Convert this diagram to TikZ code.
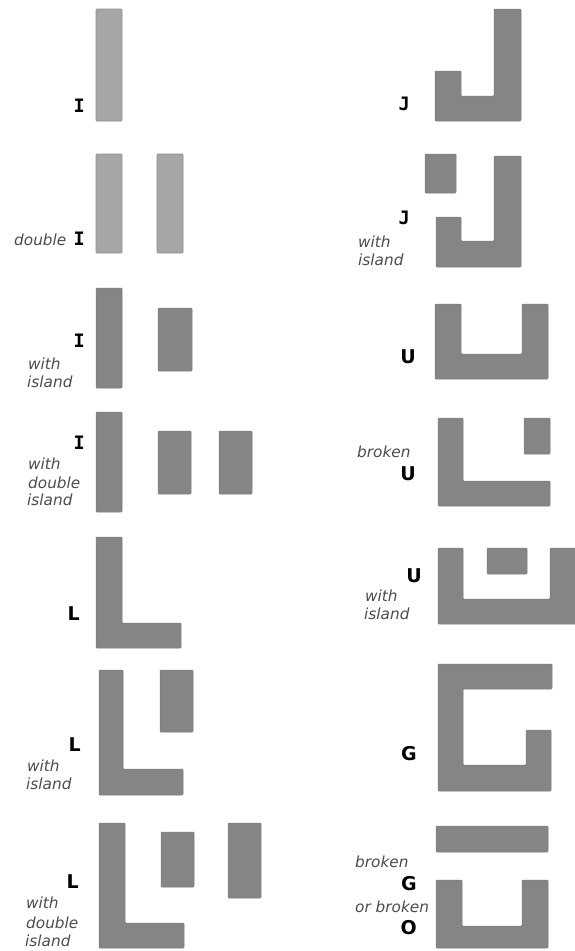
\documentclass[tikz,border=0pt]{standalone}
\usepackage{fontspec}
\setmainfont{DejaVu Sans}
\newfontfamily\monof{DejaVu Sans Mono}
\definecolor{lightg}{HTML}{A6A6A8}
\definecolor{lightb}{HTML}{8E8E90}
\definecolor{darkg}{HTML}{858587}
\definecolor{darkb}{HTML}{7A7A7C}
\definecolor{notec}{HTML}{4C4C4C}
\tikzset{
  lightbar/.style={fill=lightg, draw=lightb, line width=0.6pt, line join=round, rounded corners=0.8pt},
  darkbar/.style={fill=darkg, draw=darkb, line width=0.5pt, line join=round, rounded corners=0.8pt},
  bigletter/.style={font=\fontsize{19}{19}\selectfont\bfseries, anchor=base east, inner sep=0pt},
  monoletter/.style={font=\monof\fontsize{18.5}{18.5}\selectfont\bfseries, anchor=base east, inner sep=0pt},
  note/.style={font=\fontsize{15.3}{15.3}\selectfont\itshape, text=notec, anchor=base west, inner sep=0pt},
}
\begin{document}
\begin{tikzpicture}[x=1pt,y=-1pt]
\useasboundingbox[fill=white] (0,0) rectangle (574,951);
% ---------------- left column ----------------
% I
\draw[lightbar] (96,9) rectangle (122,121);
\node[monoletter] (tI) at (85,112) {I};
% double I
\draw[lightbar] (96,154) rectangle (122,253);
\draw[lightbar] (157,154) rectangle (183,253);
\node[note] (tdouble) at (14,245) {double};
\node[monoletter] (tdI) at (85,245) {I};
% I with island
\draw[darkbar] (96,288) rectangle (122,388);
\draw[darkbar] (158,308) rectangle (192,371);
\node[monoletter] (tIw) at (85,347) {I};
\node[note] (tIw1) at (28,369) {with};
\node[note] (tIw2) at (27,387) {island};
% I with double island
\draw[darkbar] (96,412) rectangle (122,512);
\draw[darkbar] (158,431) rectangle (191,494);
\draw[darkbar] (219,431) rectangle (252,494);
\node[monoletter] (tIdd) at (85,449) {I};
\node[note] (tIdd1) at (28,469) {with};
\node[note] (tIdd2) at (28,488) {double};
\node[note] (tIdd3) at (27,505) {island};
% L
\draw[darkbar] (96,537) -- (122,537) -- (122,623) -- (181,623) -- (181,648) -- (96,648) -- cycle;
\node[bigletter] (tL) at (80,620) {L};
% L with island
\draw[darkbar] (99,670) -- (123,670) -- (123,769) -- (183,769) -- (183,795) -- (99,795) -- cycle;
\draw[darkbar] (160,670) rectangle (193,732);
\node[bigletter] (tLw) at (81,751) {L};
\node[note] (tLw1) at (27,771) {with};
\node[note] (tLw2) at (26,789) {island};
% L with double island
\draw[darkbar] (99,823) -- (125,823) -- (125,923) -- (184,923) -- (184,948) -- (99,948) -- cycle;
\draw[darkbar] (161,832) rectangle (194,887);
\draw[darkbar] (228,823) rectangle (261,898);
\node[bigletter] (tLdd) at (79,888) {L};
\node[note] (tLdd1) at (26,908) {with};
\node[note] (tLdd2) at (26,928) {double};
\node[note] (tLdd3) at (25,946) {island};
% ---------------- right column ----------------
% J
\draw[darkbar] (494,9) -- (521,9) -- (521,121) -- (435,121) -- (435,71) -- (461,71) -- (461,96) -- (494,96) -- cycle;
\node[monoletter] (tJ) at (410,110) {J};
% J with island
\draw[darkbar] (494,156) -- (521,156) -- (521,267) -- (436,267) -- (436,217) -- (461,217) -- (461,241) -- (494,241) -- cycle;
\draw[darkbar] (425,154) rectangle (456,193);
\node[monoletter] (tJw) at (410,224) {J};
\node[note] (tJw1) at (358,247) {with};
\node[note] (tJw2) at (358,265) {island};
% U
\draw[darkbar] (435,304) -- (461,304) -- (461,354) -- (522,354) -- (522,304) -- (548,304) -- (548,379) -- (435,379) -- cycle;
\node[bigletter] (tU) at (416,363) {U};
% broken U
\draw[darkbar] (438,418) -- (463,418) -- (463,481) -- (550,481) -- (550,506) -- (438,506) -- cycle;
\draw[darkbar] (524,418) rectangle (550,454);
\node[note] (tbU1) at (357,457) {broken};
\node[bigletter] (tbU) at (416,480) {U};
% U with island
\draw[darkbar] (438,548) -- (463,548) -- (463,599) -- (550,599) -- (550,548) -- (580,548) -- (580,624) -- (438,624) -- cycle;
\draw[darkbar] (487,548) rectangle (527,574);
\node[bigletter] (tUw) at (422,582) {U};
\node[note] (tUw1) at (365,601) {with};
\node[note] (tUw2) at (364,619) {island};
% G
\draw[darkbar] (438,664) -- (552,664) -- (552,689) -- (463,689) -- (463,765) -- (526,765) -- (526,730) -- (551,730) -- (551,791) -- (438,791) -- cycle;
\node[bigletter] (tG) at (417,760) {G};
% broken G / broken O
\draw[darkbar] (436,826) rectangle (548,852);
\draw[darkbar] (436,880) -- (462,880) -- (462,926) -- (522,926) -- (522,880) -- (548,880) -- (548,948) -- (436,948) -- cycle;
\node[note] (tbG1) at (355,867) {broken};
\node[bigletter] (tbG) at (417,890) {G};
\node[note] (tbG2) at (355,912) {or broken};
\node[bigletter] (tbO) at (417,934) {O};
\end{tikzpicture}
\end{document}
